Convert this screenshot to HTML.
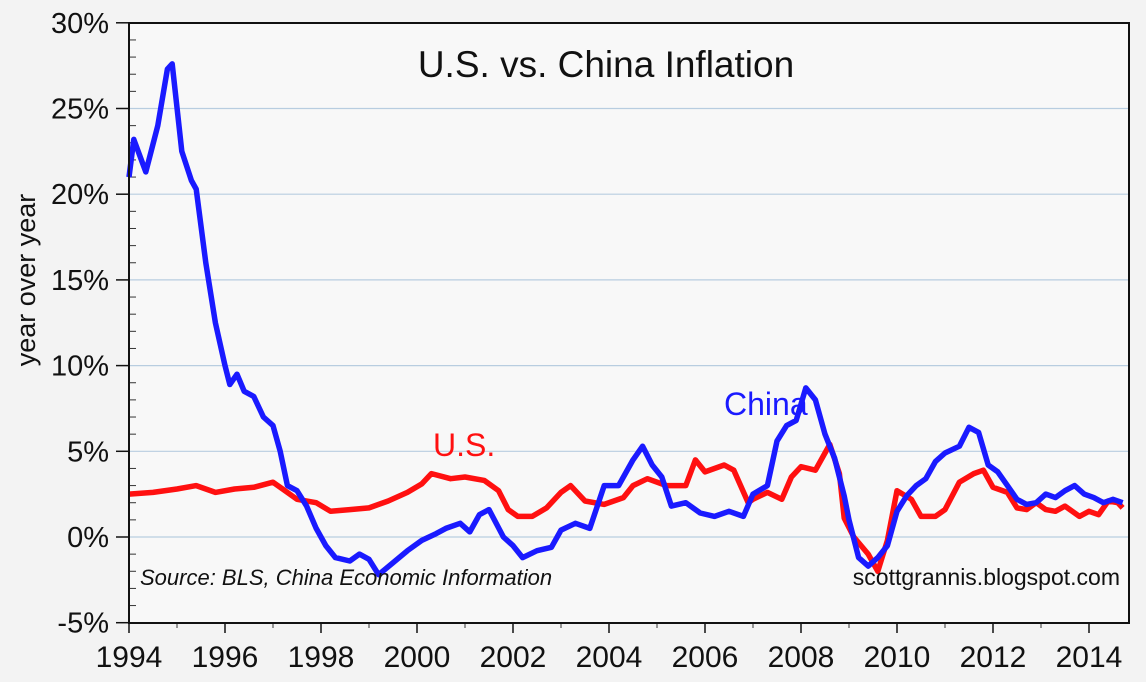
<!DOCTYPE html>
<html><head><meta charset="utf-8"><style>
html,body{margin:0;padding:0;background:#f3f3f3;}
svg{display:block;font-family:"Liberation Sans",sans-serif;}
</style></head><body>
<svg id="c" width="1146" height="682">
<rect x="0" y="0" width="1146" height="682" fill="#f3f3f3"/>
<rect x="129" y="23" width="1000" height="600" fill="#f8f8f8"/>
<g id="grid"></g><g id="ticks"></g><g id="series"></g>
<rect x="129" y="23" width="1000" height="600" fill="none" stroke="#111" stroke-width="2"/>
<text x="606" y="77" font-size="37" text-anchor="middle" fill="#111">U.S. vs. China Inflation</text>
<text x="724" y="415" font-size="32" fill="#1a1aff">China</text>
<text x="433" y="456" font-size="32" fill="#ff1010">U.S.</text>
<text x="140" y="585" font-size="22" font-style="italic" fill="#111">Source: BLS, China Economic Information</text>
<text x="1120" y="585" font-size="23" text-anchor="end" fill="#111">scottgrannis.blogspot.com</text>
<text transform="translate(35,280) rotate(-90)" font-size="27" text-anchor="middle" fill="#111">year over year</text>
</svg>
<script>
const yTicks=[-5,0,5,10,15,20,25,30];
const xTicks=[1994,1996,1998,2000,2002,2004,2006,2008,2010,2012,2014];
const chinaX=[1994.0,1994.1,1994.35,1994.6,1994.8,1994.9,1995.1,1995.3,1995.4,1995.6,1995.8,1996.0,1996.1,1996.25,1996.4,1996.6,1996.8,1997.0,1997.15,1997.3,1997.5,1997.7,1997.9,1998.1,1998.3,1998.6,1998.8,1999.0,1999.2,1999.5,1999.8,2000.1,2000.4,2000.6,2000.9,2001.1,2001.3,2001.5,2001.8,2002.0,2002.2,2002.5,2002.8,2003.0,2003.3,2003.6,2003.9,2004.2,2004.5,2004.7,2004.9,2005.1,2005.3,2005.6,2005.9,2006.2,2006.5,2006.8,2007.0,2007.3,2007.5,2007.7,2007.9,2008.1,2008.3,2008.5,2008.7,2008.9,2009.0,2009.2,2009.4,2009.6,2009.8,2010.0,2010.2,2010.4,2010.6,2010.8,2011.0,2011.3,2011.5,2011.7,2011.9,2012.1,2012.3,2012.5,2012.7,2012.9,2013.1,2013.3,2013.5,2013.7,2013.9,2014.1,2014.3,2014.5,2014.7];
const chinaY=[21,23.2,21.3,24,27.3,27.6,22.5,20.8,20.3,16,12.5,10,8.9,9.5,8.5,8.2,7,6.5,5,3,2.7,1.8,0.5,-0.5,-1.2,-1.4,-1.0,-1.3,-2.2,-1.5,-0.8,-0.2,0.2,0.5,0.8,0.3,1.3,1.6,0,-0.5,-1.2,-0.8,-0.6,0.4,0.8,0.5,3.0,3,4.5,5.3,4.2,3.5,1.8,2.0,1.4,1.2,1.5,1.2,2.5,3,5.6,6.5,6.8,8.7,8.0,6.0,4.6,2.4,1,-1.2,-1.7,-1.2,-0.5,1.5,2.4,3.0,3.4,4.4,4.9,5.3,6.4,6.1,4.2,3.8,3.0,2.2,1.9,2.0,2.5,2.3,2.7,3.0,2.5,2.3,2.0,2.2,2.0];
const usX=[1994.0,1994.5,1995.0,1995.4,1995.8,1996.2,1996.6,1997.0,1997.2,1997.5,1997.9,1998.2,1998.6,1999.0,1999.4,1999.8,2000.1,2000.3,2000.7,2001.0,2001.4,2001.7,2001.9,2002.1,2002.4,2002.7,2003.0,2003.2,2003.5,2003.9,2004.3,2004.5,2004.8,2005.2,2005.6,2005.8,2006.0,2006.4,2006.6,2006.9,2007.0,2007.3,2007.6,2007.8,2008.0,2008.3,2008.6,2008.8,2008.9,2009.1,2009.4,2009.6,2009.8,2010.0,2010.3,2010.5,2010.8,2011.0,2011.3,2011.6,2011.8,2012.0,2012.3,2012.5,2012.7,2012.9,2013.1,2013.3,2013.5,2013.8,2014.0,2014.2,2014.4,2014.6,2014.7];
const usY=[2.5,2.6,2.8,3.0,2.6,2.8,2.9,3.2,2.8,2.2,2.0,1.5,1.6,1.7,2.1,2.6,3.1,3.7,3.4,3.5,3.3,2.7,1.6,1.2,1.2,1.7,2.6,3.0,2.1,1.9,2.3,3.0,3.4,3.0,3.0,4.5,3.8,4.2,3.9,2.0,2.2,2.6,2.2,3.5,4.1,3.9,5.4,3.7,1.1,0,-1.0,-2.0,-0.2,2.7,2.2,1.2,1.2,1.6,3.2,3.7,3.9,2.9,2.6,1.7,1.6,2.0,1.6,1.5,1.8,1.2,1.5,1.3,2.1,2.0,1.7];
const X=v=>129+(v-1994)*48, Y=v=>537-v*17.14;
const NS='http://www.w3.org/2000/svg';
const g=document.getElementById('grid'),t=document.getElementById('ticks'),s=document.getElementById('series');
function mk(p,tag,a){const e=document.createElementNS(NS,tag);for(const k in a)e.setAttribute(k,a[k]);p.appendChild(e);return e;}
yTicks.forEach(v=>{
 if(v>-5&&v<30){const l=mk(g,'line',{x1:129,x2:1129,y1:Y(v),y2:Y(v),stroke:'#b8cde0','stroke-width':1.2});
 
 }
 const tk=mk(t,'line',{x1:116,x2:129,y1:Y(v),y2:Y(v),stroke:'#111','stroke-width':1.5});
 
 
 const tx=mk(t,'text',{x:109,y:Y(v)+10,'font-size':29,'text-anchor':'end',fill:'#111'});tx.textContent=v+'%';
 
 
});
for(let v=-5;v<30;v++){if(v%5===0)continue;const m=mk(t,'line',{x1:129,x2:136,y1:Y(v),y2:Y(v),stroke:'#333','stroke-width':1});
 
 }
for(let yr=1995;yr<=2014;yr+=2){const m=mk(t,'line',{x1:X(yr),x2:X(yr),y1:623,y2:628,stroke:'#333','stroke-width':1});
 
 }
xTicks.forEach(v=>{
 const tk=mk(t,'line',{x1:X(v),x2:X(v),y1:623,y2:633,stroke:'#111','stroke-width':1.5});
 
 
 const tx=mk(t,'text',{x:X(v),y:667,'font-size':30,'text-anchor':'middle',fill:'#111'});tx.textContent=v;
 
 
});
function line(xs,ys,col,name){const d=xs.map((x,i)=>(i?'L':'M')+X(x).toFixed(1)+','+Y(ys[i]).toFixed(1)).join('');
 const p=mk(s,'path',{d:d,fill:'none',stroke:col,'stroke-width':5.5,'stroke-linejoin':'round'});
 
 }
line(usX,usY,'#ff1010','us-inflation-line');
line(chinaX,chinaY,'#1a1aff','china-inflation-line');
</script>
</body></html>
